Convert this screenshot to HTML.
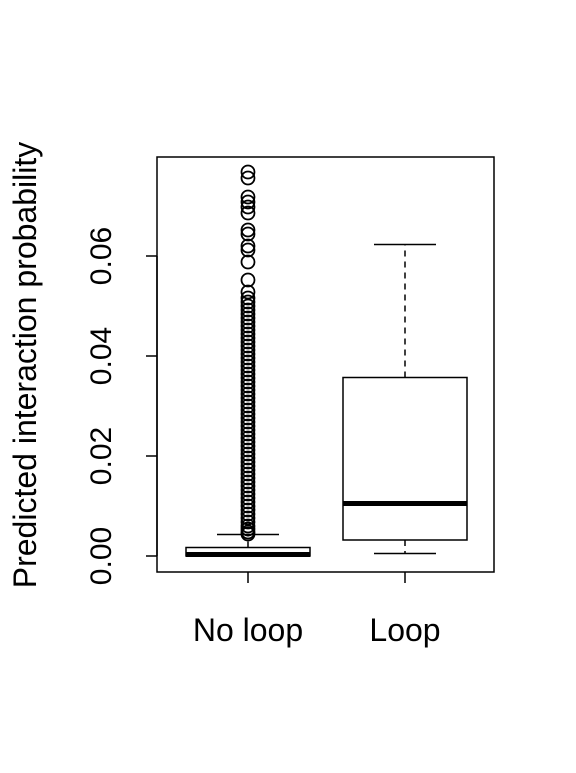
<!DOCTYPE html>
<html><head><meta charset="utf-8"><style>body{margin:0;background:#fff}svg text{font-family:"Liberation Sans",sans-serif;fill:#000}</style></head>
<body>
<svg id="chart" width="576" height="768" viewBox="0 0 576 768">
<rect x="157" y="157" width="337" height="415" fill="none" stroke="#000" stroke-width="1.5"/>
<g id="axis"></g><g id="marks"></g>
<text x="36" y="365" font-size="32" text-anchor="middle" transform="rotate(-90 36 365)">Predicted interaction probability</text>
</svg>
<script>
const categories = ["No loop", "Loop"];
const q1 = [0.0, 0.0032];
const medians = [0.0003, 0.0105];
const q3 = [0.0017, 0.0357];
const whiskLo = [0.0, 0.0005];
const whiskHi = [0.0043, 0.0623];
const yTicks = [0, 0.02, 0.04, 0.06];
const yTickLabels = ["0.00", "0.02", "0.04", "0.06"];
const outliersNoLoop = [0.0768,0.0756,0.0718,0.0708,0.0698,0.0686,0.0652,0.0644,0.062,0.0612,0.0588,0.0552,0.0528,0.0516,0.0508,0.05,0.0492,0.0484,0.0476,0.0468,0.046,0.0452,0.0444,0.0436,0.0428,0.042,0.0412,0.0404,0.0396,0.0388,0.038,0.0372,0.0364,0.0356,0.0348,0.034,0.0332,0.0324,0.0316,0.0308,0.03,0.0292,0.0284,0.0276,0.0268,0.026,0.0252,0.0244,0.0236,0.0228,0.022,0.0212,0.0204,0.0196,0.0188,0.018,0.0172,0.0164,0.0156,0.0148,0.014,0.0132,0.0124,0.0116,0.0108,0.01,0.0092,0.0084,0.0076,0.0068,0.006,0.0054,0.0048,0.0044];
const ns="http://www.w3.org/2000/svg";
const y = v => 556 - v*5000;
const x = i => [248, 405][i];
const halfW = 62;
function mk(tag, attrs, parent){const e=document.createElementNS(ns,tag);for(const k in attrs)e.setAttribute(k,attrs[k]);parent.appendChild(e);return e;}
const ax=document.getElementById('axis'), mg=document.getElementById('marks');
mk('line',{x1:157,x2:157,y1:y(yTicks[0]),y2:y(yTicks[yTicks.length-1]),stroke:'#000','stroke-width':1.5},ax);
yTicks.forEach((t,i)=>{
  mk('line',{x1:146,x2:157,y1:y(t),y2:y(t),stroke:'#000','stroke-width':1.5},ax);
  const tx=mk('text',{x:111,y:y(t),'font-size':30,'text-anchor':'middle',transform:`rotate(-90 111 ${y(t)})`},ax);
  
  
  tx.textContent=yTickLabels[i];
});
categories.forEach((c,i)=>{
  mk('line',{x1:x(i),x2:x(i),y1:572,y2:583,stroke:'#000','stroke-width':1.5},ax);
  const tx=mk('text',{x:x(i),y:641,'font-size':32,'text-anchor':'middle'},ax);
  
  
  tx.textContent=c;
  const g=mk('g',{},mg);
  
  
  mk('line',{x1:x(i),x2:x(i),y1:y(q3[i]),y2:y(whiskHi[i]),stroke:'#000','stroke-width':1.5,'stroke-dasharray':'6,5'},g);
  mk('line',{x1:x(i),x2:x(i),y1:y(q1[i]),y2:y(whiskLo[i]),stroke:'#000','stroke-width':1.5,'stroke-dasharray':'6,5'},g);
  mk('line',{x1:x(i)-31,x2:x(i)+31,y1:y(whiskHi[i]),y2:y(whiskHi[i]),stroke:'#000','stroke-width':1.5},g);
  mk('line',{x1:x(i)-31,x2:x(i)+31,y1:y(whiskLo[i]),y2:y(whiskLo[i]),stroke:'#000','stroke-width':1.5},g);
  mk('rect',{x:x(i)-halfW,y:y(q3[i]),width:halfW*2,height:y(q1[i])-y(q3[i]),fill:'none',stroke:'#000','stroke-width':1.5},g);
  mk('line',{x1:x(i)-halfW,x2:x(i)+halfW,y1:y(medians[i]),y2:y(medians[i]),stroke:'#000','stroke-width':5},g);
});
outliersNoLoop.forEach(v=>{
  const c=mk('circle',{cx:x(0),cy:y(v),r:6.5,fill:'none',stroke:'#000','stroke-width':1.8},mg);
  
  
});
</script>
</body></html>
